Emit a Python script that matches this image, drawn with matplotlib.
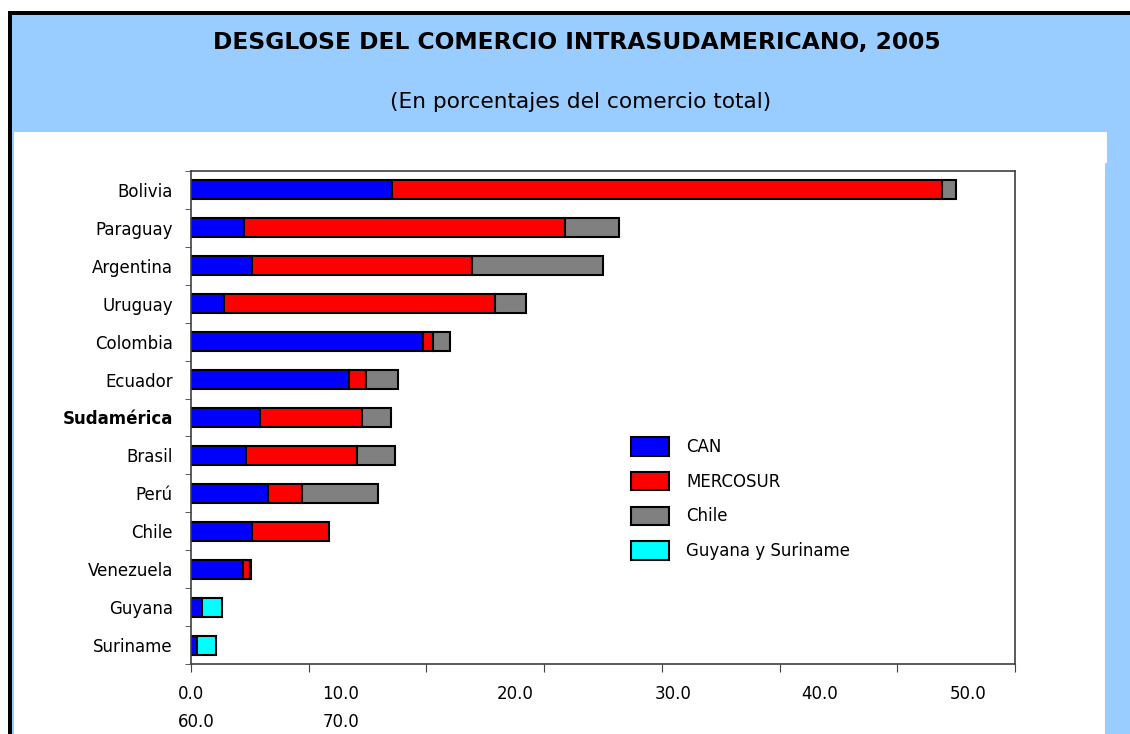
import numpy as np
import matplotlib
matplotlib.use("Agg")
import matplotlib.pyplot as plt
from matplotlib.patches import Rectangle, Patch

plt.rcParams["font.family"] = ["DejaVu Sans"]

# data (percent of total trade)
countries = ["Bolivia", "Paraguay", "Argentina", "Uruguay", "Colombia", "Ecuador",
             "Sudamérica", "Brasil", "Perú", "Chile", "Venezuela", "Guyana", "Suriname"]
can = [17.1, 4.5, 5.2, 2.8, 19.7, 13.4, 5.9, 4.7, 6.5, 5.2, 4.4, 0.9, 0.5]
mercosur = [46.7, 27.3, 18.7, 23.0, 0.9, 1.5, 8.6, 9.4, 2.9, 6.5, 0.6, 0.0, 0.0]
chile = [1.2, 4.6, 11.1, 2.7, 1.4, 2.7, 2.5, 3.2, 6.5, 0.0, 0.1, 0.0, 0.0]
guy_sur = [0.0, 0.0, 0.0, 0.0, 0.0, 0.0, 0.0, 0.0, 0.0, 0.0, 0.0, 1.7, 1.6]

series_names = ["CAN", "MERCOSUR", "Chile", "Guyana y Suriname"]
series_colors = ["#0000FF", "#FF0000", "#808080", "#00FFFF"]
xtick_values = [0, 10, 20, 30, 40, 50, 60, 70]
xtick_labels = ["0.0", "10.0", "20.0", "30.0", "40.0", "50.0", "60.0", "70.0"]

title = "DESGLOSE DEL COMERCIO INTRASUDAMERICANO, 2005"
subtitle = "(En porcentajes del comercio total)"

W, H = 1130, 734
BLUE_BG = "#99CCFF"


def fx(px):
    return px / W


def fy(py):
    return 1 - py / H


fig = plt.figure(figsize=(W / 100, H / 100), dpi=100)
fig.patch.set_facecolor("white")

# frame: black border, light blue header, white body
fig.add_artist(Rectangle((fx(8), fy(H)), fx(W) - fx(8), fy(11) - fy(H),
                         transform=fig.transFigure, facecolor="black", edgecolor="none", zorder=-10))
fig.add_artist(Rectangle((fx(12), fy(H)), fx(W) - fx(12), fy(15) - fy(H),
                         transform=fig.transFigure, facecolor=BLUE_BG, edgecolor="none", zorder=-9))
fig.add_artist(Rectangle((fx(14), fy(H)), fx(1105) - fx(14), fy(132) - fy(H),
                         transform=fig.transFigure, facecolor="white", edgecolor="none", zorder=-8))
fig.add_artist(Rectangle((fx(1105), fy(163)), fx(1107) - fx(1105), fy(132) - fy(163),
                         transform=fig.transFigure, facecolor="white", edgecolor="none", zorder=-8))

fig.text(fx(577), fy(43), title, ha="center", va="center", fontsize=16.8, fontweight="bold")
fig.text(fx(581), fy(102), subtitle, ha="center", va="center", fontsize=15.6)

ax = fig.add_axes([fx(191), fy(664), fx(1015) - fx(191), fy(171) - fy(664)])

y = np.arange(len(countries))
left = np.zeros(len(countries))
for name, vals, col in zip(series_names, [can, mercosur, chile, guy_sur], series_colors):
    vals = np.array(vals)
    mask = vals > 0
    ax.barh(y[mask], vals[mask], left=left[mask], height=0.5, color=col,
            edgecolor="black", linewidth=1.5)
    left += vals

ax.set_xlim(0, 70)
ax.set_ylim(len(countries) - 0.5, -0.5)

ax.set_yticks(y)
ax.set_yticklabels(countries, fontsize=12)
ax.get_yticklabels()[countries.index("Sudamérica")].set_fontweight("bold")
ax.tick_params(axis="y", which="major", length=0, pad=13)
ax.set_yticks(np.arange(-0.5, len(countries), 1.0), minor=True)
ax.tick_params(axis="y", which="minor", length=4, direction="out", color="#404040")

ax.set_xticks(xtick_values)
ax.tick_params(axis="x", length=6, direction="out", color="#404040", labelbottom=False)

# tick labels laid out like the original (wrapped into two rows)
row1_centers = [191, 341, 515, 673, 820, 968]
row2_centers = [196, 341]
for lab, cx in zip(xtick_labels[:6], row1_centers):
    fig.text(fx(cx), fy(694), lab, ha="center", va="center", fontsize=12)
for lab, cx in zip(xtick_labels[6:], row2_centers):
    fig.text(fx(cx), fy(722), lab, ha="center", va="center", fontsize=12)

for side in ["left", "bottom", "top", "right"]:
    ax.spines[side].set_color("#404040")
    ax.spines[side].set_linewidth(1.2)

handles = [Patch(facecolor=c, edgecolor="black", linewidth=1.5) for c in series_colors]
ax.legend(handles, series_names, loc="upper left", bbox_to_anchor=(fx(631), fy(437)),
          bbox_transform=fig.transFigure, frameon=False, fontsize=12,
          handlelength=2.3, handleheight=1.35, handletextpad=1.0, labelspacing=0.95,
          borderpad=0, borderaxespad=0)

fig.savefig("out.png", dpi=100)
plt.close(fig)
